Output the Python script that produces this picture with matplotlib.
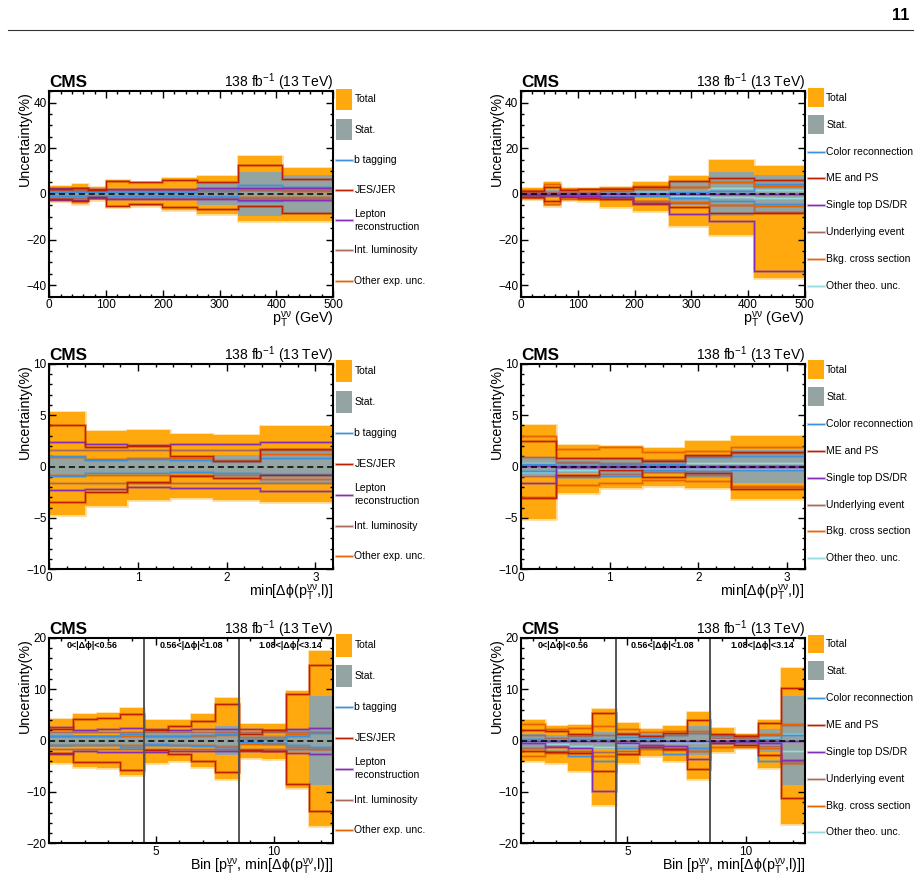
import numpy as np
import matplotlib.pyplot as plt
import matplotlib.patheffects as pe
from matplotlib.patches import Rectangle
from matplotlib.lines import Line2D
from matplotlib.ticker import MultipleLocator

plt.rcParams['font.family'] = ['Liberation Sans', 'DejaVu Sans']
plt.rcParams['mathtext.fontset'] = 'custom'
plt.rcParams['mathtext.rm'] = 'Liberation Sans'
plt.rcParams['mathtext.it'] = 'Liberation Sans:italic'
plt.rcParams['mathtext.bf'] = 'Liberation Sans:bold'

# ---------------------------------
# datos: pT del sistema nu nu
# ---------------------------------
pt_edges = [0, 40, 68, 100, 140, 198, 260, 332, 410, 500]
pt_stat = [1.3, 1.5, 1.0, 1.2, 1.3, 1.6, 5.0, 9.7, 8.3]

pt_exp_tot_up = [3.5, 4.2, 2.9, 6.1, 5.4, 6.9, 7.9, 16.6, 11.2]
pt_exp_tot_dn = [-3.3, -4.3, -2.6, -5.8, -5.3, -7.0, -8.9, -12.0, -12.0]
pt_btag_up = [0.8, 0.9, 0.7, 0.8, 0.8, 0.9, 1.2, 4.0, 3.0]
pt_btag_dn = [-0.8, -0.9, -0.7, -0.8, -0.8, -0.9, -1.1, -3.2, -2.8]
pt_jes_up = [2.2, 2.8, 1.5, 5.8, 5.0, 6.1, 5.0, 12.6, 6.6]
pt_jes_dn = [-2.4, -3.0, -1.5, -5.1, -4.4, -5.8, -6.7, -5.5, -8.2]
pt_lep_up = [2.6, 2.6, 2.0, 2.3, 2.3, 2.3, 2.4, 2.8, 2.8]
pt_lep_dn = [-2.5, -2.5, -1.9, -2.2, -2.2, -2.3, -2.4, -2.7, -2.8]
pt_lumi_up = [1.6, 1.6, 1.6, 1.6, 1.6, 1.6, 1.6, 1.6, 1.6]
pt_lumi_dn = [-1.6, -1.6, -1.6, -1.6, -1.6, -1.6, -1.6, -1.6, -1.6]
pt_othexp_up = [1.0, 1.1, 0.8, 0.9, 1.0, 1.0, 1.2, 1.5, 1.3]
pt_othexp_dn = [-1.0, -1.1, -0.8, -0.9, -1.0, -1.0, -1.2, -1.5, -1.3]

pt_th_tot_up = [2.5, 5.4, 2.8, 2.6, 3.2, 5.1, 7.9, 15.0, 12.4]
pt_th_tot_dn = [-2.3, -5.3, -2.6, -3.2, -5.8, -7.7, -13.9, -18.2, -36.9]
pt_cr_up = [0.4, 0.5, 0.3, 0.4, 0.5, 0.6, 1.0, 1.2, 4.5]
pt_cr_dn = [-0.4, -0.5, -0.4, -0.6, -0.8, -1.0, -2.0, -3.0, -4.5]
pt_me_up = [1.2, 3.0, 1.5, 2.2, 2.2, 3.2, 5.5, 7.0, 6.0]
pt_me_dn = [-1.2, -3.0, -1.5, -1.8, -2.3, -4.3, -5.8, -8.5, -8.5]
pt_st_up = [0.0, 0.0, 0.0, 0.0, 0.0, 0.0, 0.0, 0.0, 0.0]
pt_st_dn = [-0.6, -0.5, -0.7, -1.0, -1.5, -3.8, -8.8, -12.0, -33.6]
pt_ue_up = [0.8, 1.0, 0.8, 1.0, 1.2, 2.0, 3.0, 5.0, 3.6]
pt_ue_dn = [-0.8, -1.0, -0.8, -1.2, -1.8, -3.0, -4.0, -5.0, -8.0]
pt_bkg_up = [1.8, 4.5, 2.2, 2.3, 2.5, 3.3, 3.0, 5.0, 3.6]
pt_bkg_dn = [-1.8, -4.5, -2.2, -2.3, -2.4, -3.3, -3.5, -5.0, -5.5]
pt_oth_up = [0.5, 0.5, 0.4, 0.5, 0.6, 1.0, 1.0, 2.5, 1.5]
pt_oth_dn = [-0.5, -0.5, -0.4, -0.5, -0.6, -1.0, -1.0, -1.5, -2.0]

# ---------------------------------
# datos: min delta phi
# ---------------------------------
dphi_edges = [0, 0.4, 0.88, 1.36, 1.85, 2.37, 3.2]
dphi_stat = [0.8, 0.6, 0.7, 0.7, 1.15, 1.6]

dphi_exp_tot_up = [5.26, 3.5, 3.6, 3.2, 3.1, 3.9]
dphi_exp_tot_dn = [-4.74, -3.8, -3.3, -3.1, -3.3, -3.5]
dphi_btag_up = [1.0, 0.65, 0.7, 0.6, 0.5, 0.8]
dphi_btag_dn = [-0.9, -0.6, -0.6, -0.5, -0.6, -0.7]
dphi_jes_up = [4.0, 1.9, 2.0, 1.0, 0.55, 1.7]
dphi_jes_dn = [-3.5, -2.5, -1.5, -0.9, -1.15, -0.83]
dphi_lep_up = [2.4, 2.2, 2.1, 2.2, 2.2, 2.4]
dphi_lep_dn = [-2.3, -2.2, -2.0, -2.1, -2.1, -2.4]
dphi_lumi_up = [1.65, 1.65, 1.65, 1.65, 1.65, 1.65]
dphi_lumi_dn = [-1.6, -1.6, -1.6, -1.6, -1.6, -1.6]
dphi_othexp_up = [0.9, 0.7, 0.8, 0.8, 0.6, 1.2]
dphi_othexp_dn = [-0.8, -0.8, -0.8, -0.8, -0.8, -1.2]

dphi_th_tot_up = [4.0, 2.1, 2.0, 1.8, 2.5, 3.0]
dphi_th_tot_dn = [-5.1, -2.6, -2.1, -1.9, -2.1, -3.2]
dphi_cr_up = [0.2, 0.3, 0.2, 0.2, 0.9, 1.0]
dphi_cr_dn = [-0.4, -1.0, -0.9, -0.3, -0.4, -0.3]
dphi_me_up = [2.5, 0.8, 0.8, 0.5, 1.1, 1.4]
dphi_me_dn = [-3.1, -0.8, -0.3, -1.0, -0.65, -2.2]
dphi_st_up = [0.05, 0.05, 0.05, 0.05, 0.05, 0.05]
dphi_st_dn = [-1.6, -0.05, -0.05, -0.05, -0.05, -0.05]
dphi_ue_up = [0.9, 0.4, 0.3, 0.6, 1.0, 1.3]
dphi_ue_dn = [-0.9, -0.9, -0.7, -0.5, -0.8, -2.0]
dphi_bkg_up = [3.0, 1.75, 1.9, 1.45, 1.5, 1.9]
dphi_bkg_dn = [-3.0, -1.75, -1.6, -1.35, -1.45, -1.9]
dphi_oth_up = [0.3, 0.1, 0.1, 0.1, 0.3, 0.3]
dphi_oth_dn = [-0.5, -0.3, -0.2, -0.1, -0.1, -0.2]

# ---------------------------------
# datos: distribucion 2D desenrollada
# ---------------------------------
bin_edges = [0.5, 1.5, 2.5, 3.5, 4.5, 5.5, 6.5, 7.5, 8.5, 9.5, 10.5, 11.5, 12.5]
bin_stat = [1.3, 1.0, 1.1, 1.6, 1.2, 1.2, 1.3, 2.8, 0.9, 1.0, 2.3, 8.6]
bin_regions = ['0<|Δϕ|<0.56', '0.56<|Δϕ|<1.08', '1.08<|Δϕ|<3.14']
bin_region_bounds = [4.5, 8.5]
bin_region_centers = [2.3, 6.5, 10.7]

bin_exp_tot_up = [4.25, 5.1, 5.4, 6.4, 4.1, 4.1, 5.1, 8.3, 3.2, 3.3, 9.6, 17.5]
bin_exp_tot_dn = [-4.45, -5.2, -5.3, -6.7, -4.4, -4.05, -5.2, -7.5, -3.3, -3.5, -9.2, -16.7]
bin_btag_up = [0.9, 0.8, 0.9, 1.2, 0.8, 0.9, 1.0, 1.3, 0.3, 0.3, 0.8, 1.5]
bin_btag_dn = [-0.9, -0.8, -0.9, -1.2, -0.7, -0.9, -1.0, -1.3, -0.3, -0.4, -0.8, -1.3]
bin_jes_up = [2.3, 4.25, 4.4, 5.2, 2.0, 2.9, 3.9, 7.1, 1.3, 2.0, 9.0, 14.8]
bin_jes_dn = [-2.5, -4.25, -4.1, -5.75, -1.8, -2.6, -4.05, -6.2, -1.8, -2.0, -8.5, -13.7]
bin_lep_up = [2.7, 2.0, 2.3, 2.4, 2.3, 2.1, 2.2, 2.2, 2.2, 2.0, 2.3, 2.5]
bin_lep_dn = [-2.6, -2.0, -2.3, -2.3, -2.3, -2.0, -2.1, -2.1, -2.1, -2.0, -2.4, -2.6]
bin_lumi_up = [1.6, 1.6, 1.6, 1.6, 1.6, 1.6, 1.6, 1.6, 1.6, 1.6, 1.6, 1.6]
bin_lumi_dn = [-1.6, -1.6, -1.6, -1.6, -1.6, -1.6, -1.6, -1.6, -1.6, -1.6, -1.6, -1.6]
bin_othexp_up = [0.9, 0.8, 0.8, 0.9, 0.8, 0.8, 0.8, 1.0, 0.7, 0.7, 1.2, 1.6]
bin_othexp_dn = [-0.9, -0.8, -0.8, -0.9, -0.8, -0.8, -0.8, -1.0, -0.7, -0.7, -1.2, -1.6]

bin_th_tot_up = [4.1, 2.9, 3.1, 6.2, 3.5, 2.2, 2.8, 5.6, 2.5, 1.3, 4.05, 14.2]
bin_th_tot_dn = [-4.05, -4.3, -5.9, -12.5, -4.45, -3.1, -4.05, -7.5, -2.3, -1.45, -5.4, -16.3]
bin_cr_up = [0.3, 0.2, 0.3, 0.3, 0.7, 0.5, 1.0, 1.5, 0.8, 0.2, 0.3, 1.0]
bin_cr_dn = [-1.5, -2.0, -3.1, -4.0, -1.5, -1.5, -2.6, -1.5, -0.3, -0.3, -4.0, -4.0]
bin_me_up = [2.1, 1.8, 1.3, 5.3, 1.3, 0.85, 1.45, 4.1, 1.2, 0.8, 3.5, 10.3]
bin_me_dn = [-2.0, -2.3, -2.4, -5.9, -2.6, -1.3, -1.6, -5.6, -0.5, -0.8, -2.9, -11.2]
bin_st_up = [0.0, 0.0, 0.0, 0.0, 0.0, 0.0, 0.0, 0.0, 0.0, 0.0, 0.0, 0.0]
bin_st_dn = [-0.5, -1.3, -1.4, -9.8, -0.4, -0.8, -1.0, -3.6, -0.1, -0.1, -0.5, -3.7]
bin_ue_up = [1.0, 0.5, 0.8, 1.0, 1.5, 0.8, 1.0, 1.5, 0.5, 0.5, 1.0, 3.0]
bin_ue_dn = [-1.5, -1.0, -2.0, -2.2, -2.0, -1.0, -1.5, -2.0, -0.3, -0.5, -1.0, -4.3]
bin_bkg_up = [3.2, 2.2, 2.5, 2.9, 2.3, 1.6, 1.9, 1.8, 1.0, 1.0, 1.2, 3.2]
bin_bkg_dn = [-3.1, -2.5, -2.5, -3.1, -2.6, -1.6, -1.8, -2.1, -1.3, -1.2, -1.5, -4.3]
bin_oth_up = [0.2, 0.1, 0.1, 0.4, 0.6, 0.6, 1.0, 1.4, 0.4, 0.1, 0.5, 1.3]
bin_oth_dn = [-0.2, -0.6, -1.1, -1.2, -0.6, -0.1, -0.2, -0.3, -0.2, -0.1, -1.0, -2.0]

exp_labels = ['Total', 'Stat.', 'b tagging', 'JES/JER', 'Lepton\nreconstruction',
              'Int. luminosity', 'Other exp. unc.']
th_labels = ['Total', 'Stat.', 'Color reconnection', 'ME and PS', 'Single top DS/DR',
             'Underlying event', 'Bkg. cross section', 'Other theo. unc.']

# colores (paleta CMS)
C_TOT = '#ffa90e'
C_STAT = '#94a4a2'
C_BLUE = '#3f90da'
C_RED = '#bd1f01'
C_PURPLE = '#832db6'
C_BROWN = '#a96b59'
C_ORANGE = '#e76300'
C_CYAN = '#92dadd'
exp_colors = [C_TOT, C_STAT, C_BLUE, C_RED, C_PURPLE, C_BROWN, C_ORANGE]
th_colors = [C_TOT, C_STAT, C_BLUE, C_RED, C_PURPLE, C_BROWN, C_ORANGE, C_CYAN]


def halo(c):
    return [pe.Stroke(linewidth=2.2, foreground=c, alpha=0.3), pe.Normal()]


def dibujar(ax, edges, tot_up, tot_dn, stat, lineas):
    ax.stairs(tot_up, edges, baseline=tot_dn, fill=True, color=C_TOT, lw=0, zorder=1)
    ax.stairs(tot_up, edges, baseline=tot_dn, fill=False, color=C_TOT,
              alpha=0.45, lw=1.8, zorder=1)
    stat = np.array(stat)
    ax.stairs(stat, edges, baseline=-stat, fill=True, color=C_STAT, lw=0, zorder=2)
    for up, dn, c in lineas:
        ax.stairs(up, edges, baseline=None, color=c, lw=0.9, zorder=3, path_effects=halo(c))
        ax.stairs(dn, edges, baseline=None, color=c, lw=0.9, zorder=3, path_effects=halo(c))
    ax.axhline(0, color='k', lw=1.1, ls=(0, (4, 2.5)), zorder=4)


def estilo(ax, xlim, ylim, xmaj, xmin, ymaj, ymin, xlabel):
    ax.set_xlim(xlim)
    ax.set_ylim(ylim)
    ax.xaxis.set_major_locator(MultipleLocator(xmaj))
    ax.xaxis.set_minor_locator(MultipleLocator(xmin))
    ax.yaxis.set_major_locator(MultipleLocator(ymaj))
    ax.yaxis.set_minor_locator(MultipleLocator(ymin))
    ax.tick_params(which='both', direction='in', top=True, right=True,
                   labelsize=8.5, width=1, pad=2)
    ax.tick_params(which='major', length=5)
    ax.tick_params(which='minor', length=2.5)
    for s in ax.spines.values():
        s.set_linewidth(1.5)
        s.set_zorder(6)
    ax.set_ylabel('Uncertainty(%)', fontsize=10.3, loc='top')
    ax.yaxis.set_label_coords(-0.062, 1.0)
    ax.set_xlabel(xlabel, fontsize=10.3, loc='right')
    ax.xaxis.set_label_coords(1.0, -0.065)
    ax.text(0.0, 1.02, 'CMS', transform=ax.transAxes, fontsize=12.3,
            fontweight='bold', ha='left', va='baseline')
    ax.text(1.0, 1.02, r'138 fb$^{-1}$ (13 TeV)', transform=ax.transAxes,
            fontsize=10, ha='right', va='baseline')


def leyenda(ax, labels, colors, y0, dy, box_h):
    for i, (lab, c) in enumerate(zip(labels, colors)):
        y = y0 - dy * i
        if i < 2:
            ax.add_patch(Rectangle((1.01, y - box_h / 2), 0.056, box_h, color=c,
                                   transform=ax.transAxes, clip_on=False, lw=0))
        else:
            ax.add_line(Line2D([1.01, 1.066], [y, y], color=c, lw=0.9,
                               transform=ax.transAxes, clip_on=False,
                               path_effects=halo(c)))
        ax.text(1.075, y, lab, transform=ax.transAxes, fontsize=7.5,
                ha='left', va='center', linespacing=1.4)


fig = plt.figure(figsize=(9.2, 8.84), dpi=100)

# cabecera de pagina
fig.text(0.9884, 0.991, '11', ha='right', va='top', fontsize=11.7, fontweight='bold')
fig.add_artist(Line2D([0.009, 0.992], [0.966, 0.966], color='#333333', lw=0.8))

izq, der = 0.0536, 0.5663
ancho, alto = 0.3085, 0.2325
filas = [0.6644, 0.356, 0.046]

lab_pt = r'p$_{\rm T}^{\rm νν}$ (GeV)'
lab_dphi = r'min[Δϕ(p$_{\rm T}^{\rm νν}$,l)]'
lab_bin = r'Bin [p$_{\rm T}^{\rm νν}$, min[Δϕ(p$_{\rm T}^{\rm νν}$,l)]]'

# fila 1: pT
ax1 = fig.add_axes([izq, filas[0], ancho, alto])
dibujar(ax1, pt_edges, pt_exp_tot_up, pt_exp_tot_dn, pt_stat,
        [(pt_othexp_up, pt_othexp_dn, C_ORANGE), (pt_lumi_up, pt_lumi_dn, C_BROWN),
         (pt_btag_up, pt_btag_dn, C_BLUE), (pt_lep_up, pt_lep_dn, C_PURPLE),
         (pt_jes_up, pt_jes_dn, C_RED)])
estilo(ax1, (0, 500), (-45, 45), 100, 20, 20, 5, lab_pt)
leyenda(ax1, exp_labels, exp_colors, 0.96, 0.147, 0.105)

ax2 = fig.add_axes([der, filas[0], ancho, alto])
dibujar(ax2, pt_edges, pt_th_tot_up, pt_th_tot_dn, pt_stat,
        [(pt_oth_up, pt_oth_dn, C_CYAN), (pt_cr_up, pt_cr_dn, C_BLUE),
         (pt_ue_up, pt_ue_dn, C_BROWN), (pt_bkg_up, pt_bkg_dn, C_ORANGE),
         (pt_me_up, pt_me_dn, C_RED), (pt_st_up, pt_st_dn, C_PURPLE)])
estilo(ax2, (0, 500), (-45, 45), 100, 20, 20, 5, lab_pt)
leyenda(ax2, th_labels, th_colors, 0.968, 0.131, 0.092)

# fila 2: min delta phi
ax3 = fig.add_axes([izq, filas[1], ancho, alto])
dibujar(ax3, dphi_edges, dphi_exp_tot_up, dphi_exp_tot_dn, dphi_stat,
        [(dphi_othexp_up, dphi_othexp_dn, C_ORANGE), (dphi_lumi_up, dphi_lumi_dn, C_BROWN),
         (dphi_btag_up, dphi_btag_dn, C_BLUE), (dphi_lep_up, dphi_lep_dn, C_PURPLE),
         (dphi_jes_up, dphi_jes_dn, C_RED)])
estilo(ax3, (0, 3.2), (-10, 10), 1, 0.2, 5, 1, lab_dphi)
leyenda(ax3, exp_labels, exp_colors, 0.963, 0.15, 0.108)

ax4 = fig.add_axes([der, filas[1], ancho, alto])
dibujar(ax4, dphi_edges, dphi_th_tot_up, dphi_th_tot_dn, dphi_stat,
        [(dphi_oth_up, dphi_oth_dn, C_CYAN), (dphi_cr_up, dphi_cr_dn, C_BLUE),
         (dphi_ue_up, dphi_ue_dn, C_BROWN), (dphi_bkg_up, dphi_bkg_dn, C_ORANGE),
         (dphi_me_up, dphi_me_dn, C_RED), (dphi_st_up, dphi_st_dn, C_PURPLE)])
estilo(ax4, (0, 3.2), (-10, 10), 1, 0.2, 5, 1, lab_dphi)
leyenda(ax4, th_labels, th_colors, 0.97, 0.131, 0.092)

# fila 3: bins 2D
ax5 = fig.add_axes([izq, filas[2], ancho, alto])
dibujar(ax5, bin_edges, bin_exp_tot_up, bin_exp_tot_dn, bin_stat,
        [(bin_othexp_up, bin_othexp_dn, C_ORANGE), (bin_lumi_up, bin_lumi_dn, C_BROWN),
         (bin_btag_up, bin_btag_dn, C_BLUE), (bin_lep_up, bin_lep_dn, C_PURPLE),
         (bin_jes_up, bin_jes_dn, C_RED)])
estilo(ax5, (0.5, 12.5), (-20, 20), 5, 1, 10, 2, lab_bin)
leyenda(ax5, exp_labels, exp_colors, 0.963, 0.15, 0.108)

ax6 = fig.add_axes([der, filas[2], ancho, alto])
dibujar(ax6, bin_edges, bin_th_tot_up, bin_th_tot_dn, bin_stat,
        [(bin_oth_up, bin_oth_dn, C_CYAN), (bin_cr_up, bin_cr_dn, C_BLUE),
         (bin_ue_up, bin_ue_dn, C_BROWN), (bin_bkg_up, bin_bkg_dn, C_ORANGE),
         (bin_me_up, bin_me_dn, C_RED), (bin_st_up, bin_st_dn, C_PURPLE)])
estilo(ax6, (0.5, 12.5), (-20, 20), 5, 1, 10, 2, lab_bin)
leyenda(ax6, th_labels, th_colors, 0.97, 0.131, 0.092)

for ax in (ax5, ax6):
    for xb in bin_region_bounds:
        ax.axvline(xb, color='#555555', lw=1.4, zorder=5)
    for xc, txt in zip(bin_region_centers, bin_regions):
        ax.text(xc, 0.985, txt, transform=ax.get_xaxis_transform(), fontsize=6.5,
                fontweight='bold', ha='center', va='top')

fig.savefig('out.png', dpi=100)
